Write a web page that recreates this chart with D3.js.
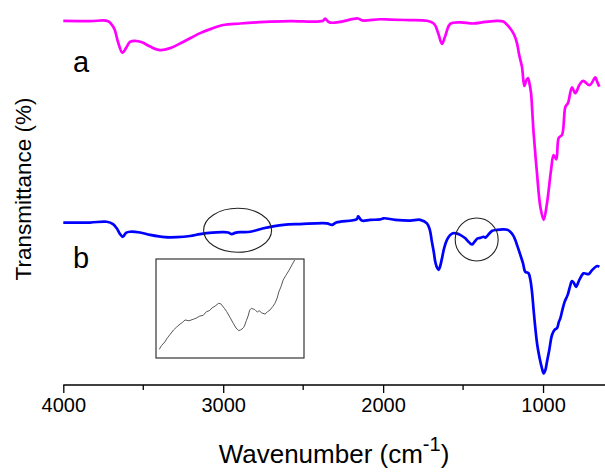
<!DOCTYPE html>
<html><head><meta charset="utf-8">
<script src="https://cdn.jsdelivr.net/npm/d3@7"></script>
<style>
html,body{margin:0;padding:0;background:#fff;}
svg{display:block;font-family:"Liberation Sans",Arial,sans-serif;}
</style></head>
<body>
<svg id="c" width="605" height="473"></svg>
<script>
// ---- data ----
const xTicks = [4000, 3000, 2000, 1000];
const xMinorTicks = [3500, 2500, 1500];

const wnA = [4000,3833,3720,3683,3658,3631,3608,3583,3551,3508,3457,3395,3332,3251,3144,3069,3001,2894,2738,2581,2375,2363,2344,2325,2269,2157,2131,2019,1956,1863,1725,1681,1656,1632,1612,1580,1518,1437,1362,1288,1249,1205,1180,1163,1149,1132,1117,1105,1094,1083,1075,1067,1059,1038,1017,996,975,950,934,917,902,881,860,844,819,798,773,750,708,673,662,648];
const tA = [94.6,94.5,94.5,92.7,89.1,86.3,87.5,89.1,89.4,89.0,87.9,87.0,87.5,89.1,91.4,92.6,93.5,93.9,94.3,94.5,94.6,95.2,94.4,94.1,94.3,95.2,94.7,95.0,94.9,94.8,94.6,93.8,91.4,88.6,90.6,93.8,94.2,93.9,94.3,94.6,94.4,92.6,90.9,88.8,85.7,82.7,77.7,79.1,79.7,77.9,75.8,70.9,65.5,55.1,46.3,42.9,47.3,55.8,59.7,58.6,64.2,65.0,72.3,73.2,77.3,75.8,77.9,79.0,77.9,79.9,78.8,77.5];

const wnB = [4000,3833,3728,3689,3666,3645,3628,3608,3583,3520,3457,3364,3290,3207,3145,3069,2999,2969,2946,2926,2894,2831,2748,2623,2519,2352,2320,2293,2164,2156,2133,2081,2018,1997,1924,1830,1768,1726,1708,1695,1683,1674,1663,1653,1643,1632,1618,1601,1584,1564,1543,1518,1486,1468,1445,1430,1409,1393,1372,1361,1347,1320,1286,1247,1224,1205,1186,1174,1158,1142,1126,1111,1098,1090,1079,1069,1059,1048,1036,1021,1007,996,986,975,961,944,928,912,901,892,879,865,846,832,819,807,794,773,746,715,692,662,648];
const tB = [42.2,42.2,42.4,41.8,40.7,39.2,38.5,39.5,39.8,39.6,39.0,38.4,38.4,38.7,39.2,39.6,39.7,39.6,39.2,39.5,39.7,39.8,40.7,41.6,41.8,42.0,41.6,42.2,43.1,43.8,42.7,42.9,43.0,43.3,42.9,42.7,42.9,42.0,40.3,37.2,34.5,32.0,30.5,29.9,30.9,32.9,35.6,37.7,38.8,39.4,39.4,39.0,38.1,37.3,36.5,37.1,38.1,38.2,38.5,38.3,38.8,40.0,40.3,40.4,40.3,39.8,38.8,37.7,35.8,33.8,31.7,29.4,29.2,29.0,27.3,24.2,19.5,14.7,10.4,6.9,4.4,3.0,3.8,6.1,9.1,13.0,14.3,14.8,16.4,17.3,19.5,21.6,23.4,25.5,27.0,26.5,25.5,27.3,29.0,28.8,29.9,30.9,30.7];

// inset: magnified view of spectrum b, 3050-2780 cm-1
const wnInset = [3044,3040,3034,3029,3024,3018,3012,3006,3002,2997,2990,2982,2976,2970,2964,2958,2952,2948,2942,2936,2932,2930,2925,2921,2915,2909,2904,2899,2896,2893,2890,2888,2885,2882,2879,2876,2873,2870,2868,2865,2862,2857,2851,2847,2842,2837,2833,2829,2826,2822,2818,2813,2807,2802,2797];
const tInset = [8.8,12.5,16.2,20.5,24.0,28.3,31.5,34.3,35.8,38.4,37.6,39.1,40.5,42.4,43.0,46.8,48.0,50.5,52.5,55.2,54.8,53.5,50.0,46.8,41.0,35.0,30.3,27.6,28.3,29.3,31.0,33.3,38.0,42.4,48.5,50.2,49.5,49.0,47.8,46.5,47.8,45.5,44.4,46.5,48.5,52.0,55.2,60.5,66.7,72.0,78.8,83.5,88.9,94.0,99.0];

const seriesLabels = ["a", "b"];

// ---- layout ----
const svg = d3.select("#c");
const x = d3.scaleLinear().domain([4000, 600]).range([63.3, 607]);
const y = d3.scaleLinear().domain([0, 100]).range([385, 0]);

// axis
const axis = d3.axisBottom(x).tickValues(xTicks).tickSize(8).tickPadding(5).tickFormat(d3.format("d"));
const gAx = svg.append("g").attr("transform", "translate(0,385)").call(axis);
gAx.select(".domain").attr("stroke", "#000").attr("stroke-width", 1.3).attr("d", `M${x(4000)},0H605`);
gAx.selectAll(".tick line").attr("stroke", "#000").attr("stroke-width", 1.3);
gAx.selectAll(".tick text").attr("font-size", 20).attr("fill", "#000")
   .attr("font-family", '"Liberation Sans",Arial,sans-serif');
gAx.selectAll(".minor").data(xMinorTicks).enter().append("line")
   .attr("x1", d => x(d)).attr("x2", d => x(d)).attr("y1", 0).attr("y2", 5)
   .attr("stroke", "#000").attr("stroke-width", 1.3);

// axis titles
const xt = svg.append("text").attr("x", 334).attr("y", 463).attr("text-anchor", "middle")
  .attr("font-size", 26).attr("fill", "#000");
xt.append("tspan").text("Wavenumber (cm");
xt.append("tspan").attr("dy", -12).attr("font-size", 20).text("-1");
xt.append("tspan").attr("dy", 12).text(")");

svg.append("text").attr("transform", "translate(31,189) rotate(-90)")
  .attr("text-anchor", "middle").attr("font-size", 22.5).attr("fill", "#000")
  .text("Transmittance (%)");

// curves
const line = d3.line().x(d => x(d[0])).y(d => y(d[1])).curve(d3.curveCatmullRom.alpha(0.5));
svg.append("path").datum(wnA.map((w, i) => [w, tA[i]]))
  .attr("d", line).attr("fill", "none").attr("stroke", "#ff00ff").attr("stroke-width", 2.7)
  .attr("stroke-linejoin", "round");
svg.append("path").datum(wnB.map((w, i) => [w, tB[i]]))
  .attr("d", line).attr("fill", "none").attr("stroke", "#0000ff").attr("stroke-width", 2.7)
  .attr("stroke-linejoin", "round");

// series labels
svg.append("text").attr("x", 73).attr("y", 72).attr("font-size", 29).attr("fill", "#000").text(seriesLabels[0]);
svg.append("text").attr("x", 73).attr("y", 268).attr("font-size", 29).attr("fill", "#000").text(seriesLabels[1]);

// highlight ellipses
svg.append("ellipse").attr("cx", x(2910)).attr("cy", y(40.2)).attr("rx", 34).attr("ry", 22)
  .attr("fill", "none").attr("stroke", "#222").attr("stroke-width", 1.1);
svg.append("ellipse").attr("cx", x(1415)).attr("cy", y(37.8)).attr("rx", 21.5).attr("ry", 21.5)
  .attr("fill", "none").attr("stroke", "#222").attr("stroke-width", 1.1);

// inset
const ix = d3.scaleLinear().domain([3050, 2780]).range([156, 304]);
const iy = d3.scaleLinear().domain([0, 100]).range([358, 259]);
svg.append("rect").attr("x", 156).attr("y", 259).attr("width", 148).attr("height", 99)
  .attr("fill", "none").attr("stroke", "#222").attr("stroke-width", 1.1);
const iline = d3.line().x(d => ix(d[0])).y(d => iy(d[1]));
svg.append("path").datum(wnInset.map((w, i) => [w, tInset[i]]))
  .attr("d", iline).attr("fill", "none").attr("stroke", "#444").attr("stroke-width", 0.9);
</script>
</body></html>
